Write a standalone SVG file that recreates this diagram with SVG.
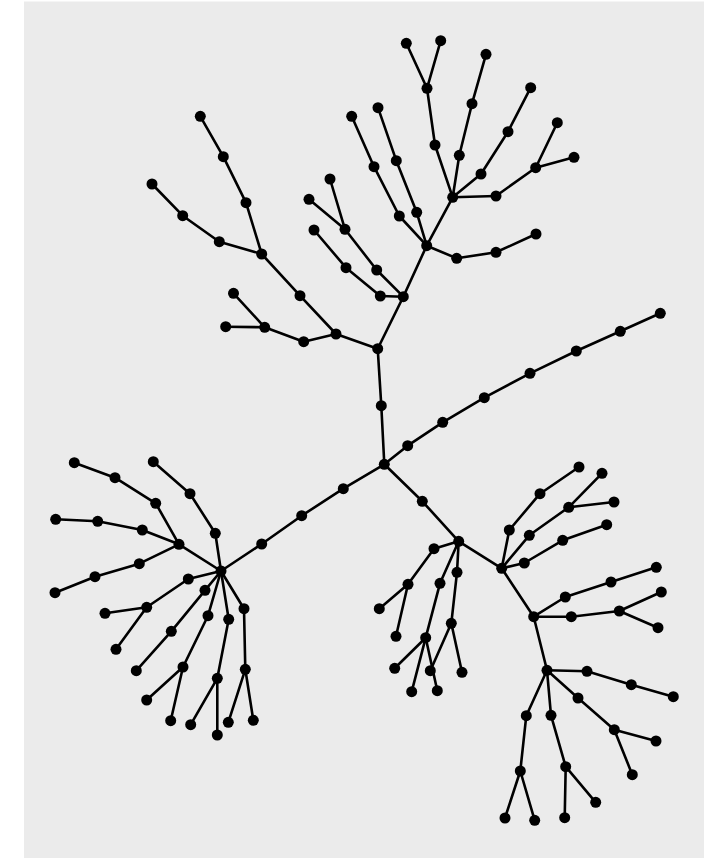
<svg xmlns="http://www.w3.org/2000/svg" width="715" height="858" viewBox="0 0 715 858">
<style>
.e line{stroke:#000;stroke-width:2.6;stroke-linecap:round}
.n circle{fill:#000}
</style>
<rect x="24" y="1.5" width="680" height="857" fill="#ebebeb"/>
<g id="connectors" class="e">
<line x1="384.3" y1="464.3" x2="381.3" y2="405.7"/>
<line x1="381.3" y1="405.7" x2="377.7" y2="348.7"/>
<line x1="384.3" y1="464.3" x2="407.7" y2="445.7"/>
<line x1="407.7" y1="445.7" x2="442.7" y2="422.3"/>
<line x1="442.7" y1="422.3" x2="484.3" y2="397.7"/>
<line x1="484.3" y1="397.7" x2="530" y2="373.3"/>
<line x1="530" y1="373.3" x2="576.3" y2="351"/>
<line x1="576.3" y1="351" x2="620.3" y2="331.3"/>
<line x1="620.3" y1="331.3" x2="660.3" y2="313.3"/>
<line x1="384.3" y1="464.3" x2="343.3" y2="488.7"/>
<line x1="343.3" y1="488.7" x2="301.7" y2="515.7"/>
<line x1="301.7" y1="515.7" x2="261.7" y2="544"/>
<line x1="261.7" y1="544" x2="221" y2="571"/>
<line x1="384.3" y1="464.3" x2="422.3" y2="501.3"/>
<line x1="422.3" y1="501.3" x2="458.7" y2="541.3"/>
<line x1="377.7" y1="348.7" x2="336" y2="334"/>
<line x1="336" y1="334" x2="303.7" y2="341.7"/>
<line x1="303.7" y1="341.7" x2="264.7" y2="327.3"/>
<line x1="264.7" y1="327.3" x2="233.5" y2="293.3"/>
<line x1="264.7" y1="327.3" x2="225.7" y2="326.7"/>
<line x1="336" y1="334" x2="300" y2="295.7"/>
<line x1="300" y1="295.7" x2="261.7" y2="254"/>
<line x1="261.7" y1="254" x2="246" y2="202.7"/>
<line x1="246" y1="202.7" x2="223.3" y2="156.7"/>
<line x1="223.3" y1="156.7" x2="200.3" y2="116.3"/>
<line x1="261.7" y1="254" x2="219.3" y2="241.7"/>
<line x1="219.3" y1="241.7" x2="182.7" y2="215.7"/>
<line x1="182.7" y1="215.7" x2="152" y2="184"/>
<line x1="377.7" y1="348.7" x2="403.3" y2="296.7"/>
<line x1="403.3" y1="296.7" x2="380.3" y2="296"/>
<line x1="380.3" y1="296" x2="346" y2="267.7"/>
<line x1="346" y1="267.7" x2="314" y2="230"/>
<line x1="403.3" y1="296.7" x2="376.7" y2="270"/>
<line x1="376.7" y1="270" x2="345" y2="229.3"/>
<line x1="345" y1="229.3" x2="309" y2="199.3"/>
<line x1="345" y1="229.3" x2="330" y2="179"/>
<line x1="403.3" y1="296.7" x2="426.7" y2="245.7"/>
<line x1="426.7" y1="245.7" x2="399.3" y2="216"/>
<line x1="399.3" y1="216" x2="374" y2="166.7"/>
<line x1="374" y1="166.7" x2="351.7" y2="116.3"/>
<line x1="426.7" y1="245.7" x2="416.7" y2="212.3"/>
<line x1="416.7" y1="212.3" x2="396.3" y2="160.7"/>
<line x1="396.3" y1="160.7" x2="378" y2="107.7"/>
<line x1="426.7" y1="245.7" x2="456.7" y2="258.3"/>
<line x1="456.7" y1="258.3" x2="496" y2="252.3"/>
<line x1="496" y1="252.3" x2="536" y2="234"/>
<line x1="426.7" y1="245.7" x2="452.7" y2="197.3"/>
<line x1="452.7" y1="197.3" x2="435" y2="145"/>
<line x1="435" y1="145" x2="427" y2="88.3"/>
<line x1="427" y1="88.3" x2="406.3" y2="43.3"/>
<line x1="427" y1="88.3" x2="440.7" y2="40.7"/>
<line x1="452.7" y1="197.3" x2="459.3" y2="155.3"/>
<line x1="459.3" y1="155.3" x2="472" y2="103.7"/>
<line x1="472" y1="103.7" x2="486" y2="54.3"/>
<line x1="452.7" y1="197.3" x2="481" y2="174"/>
<line x1="481" y1="174" x2="508" y2="131.7"/>
<line x1="508" y1="131.7" x2="530.7" y2="87.7"/>
<line x1="452.7" y1="197.3" x2="496" y2="196"/>
<line x1="496" y1="196" x2="535.7" y2="167.7"/>
<line x1="535.7" y1="167.7" x2="557.3" y2="122.7"/>
<line x1="535.7" y1="167.7" x2="574" y2="157.3"/>
<line x1="221" y1="571" x2="179" y2="544.3"/>
<line x1="179" y1="544.3" x2="155.7" y2="503.3"/>
<line x1="155.7" y1="503.3" x2="115" y2="477.7"/>
<line x1="115" y1="477.7" x2="74.3" y2="462.7"/>
<line x1="179" y1="544.3" x2="142.3" y2="530"/>
<line x1="142.3" y1="530" x2="97.7" y2="521.3"/>
<line x1="97.7" y1="521.3" x2="55.7" y2="519.3"/>
<line x1="179" y1="544.3" x2="139.3" y2="563.7"/>
<line x1="139.3" y1="563.7" x2="95" y2="576.7"/>
<line x1="95" y1="576.7" x2="55" y2="592.7"/>
<line x1="221" y1="571" x2="215.3" y2="533.3"/>
<line x1="215.3" y1="533.3" x2="190" y2="493.7"/>
<line x1="190" y1="493.7" x2="153.3" y2="461.7"/>
<line x1="221" y1="571" x2="188.3" y2="579"/>
<line x1="188.3" y1="579" x2="146.7" y2="607.3"/>
<line x1="146.7" y1="607.3" x2="105" y2="613.3"/>
<line x1="146.7" y1="607.3" x2="116" y2="649.3"/>
<line x1="221" y1="571" x2="205" y2="590.3"/>
<line x1="205" y1="590.3" x2="171.3" y2="631.3"/>
<line x1="171.3" y1="631.3" x2="136.3" y2="670.7"/>
<line x1="221" y1="571" x2="208" y2="615.7"/>
<line x1="208" y1="615.7" x2="183" y2="667"/>
<line x1="183" y1="667" x2="146.7" y2="700"/>
<line x1="183" y1="667" x2="170.7" y2="720.7"/>
<line x1="221" y1="571" x2="228.7" y2="619.3"/>
<line x1="228.7" y1="619.3" x2="217.3" y2="678.3"/>
<line x1="217.3" y1="678.3" x2="190.7" y2="724.7"/>
<line x1="217.3" y1="678.3" x2="217.3" y2="735"/>
<line x1="221" y1="571" x2="244" y2="608.7"/>
<line x1="244" y1="608.7" x2="245.3" y2="669.3"/>
<line x1="245.3" y1="669.3" x2="228.3" y2="722.3"/>
<line x1="245.3" y1="669.3" x2="253.3" y2="720.3"/>
<line x1="458.7" y1="541.3" x2="434" y2="548.7"/>
<line x1="434" y1="548.7" x2="408" y2="584.3"/>
<line x1="408" y1="584.3" x2="379.3" y2="608.7"/>
<line x1="408" y1="584.3" x2="396" y2="636.3"/>
<line x1="458.7" y1="541.3" x2="440" y2="583.3"/>
<line x1="440" y1="583.3" x2="425.7" y2="637.7"/>
<line x1="425.7" y1="637.7" x2="394.7" y2="668.3"/>
<line x1="425.7" y1="637.7" x2="411.7" y2="691.7"/>
<line x1="425.7" y1="637.7" x2="437.3" y2="690.7"/>
<line x1="458.7" y1="541.3" x2="457" y2="572.3"/>
<line x1="457" y1="572.3" x2="451.3" y2="623.3"/>
<line x1="451.3" y1="623.3" x2="430.3" y2="670.7"/>
<line x1="451.3" y1="623.3" x2="462" y2="672.3"/>
<line x1="458.7" y1="541.3" x2="501.7" y2="568.3"/>
<line x1="501.7" y1="568.3" x2="509.3" y2="530"/>
<line x1="509.3" y1="530" x2="540" y2="493.7"/>
<line x1="540" y1="493.7" x2="579" y2="467"/>
<line x1="501.7" y1="568.3" x2="529.3" y2="535.3"/>
<line x1="529.3" y1="535.3" x2="568.7" y2="507.3"/>
<line x1="568.7" y1="507.3" x2="602" y2="473.3"/>
<line x1="568.7" y1="507.3" x2="614" y2="502"/>
<line x1="501.7" y1="568.3" x2="524.3" y2="563"/>
<line x1="524.3" y1="563" x2="562.7" y2="540.3"/>
<line x1="562.7" y1="540.3" x2="606.7" y2="524.7"/>
<line x1="501.7" y1="568.3" x2="533.7" y2="616.7"/>
<line x1="533.7" y1="616.7" x2="565.3" y2="597"/>
<line x1="565.3" y1="597" x2="611" y2="582"/>
<line x1="611" y1="582" x2="656.3" y2="567.3"/>
<line x1="533.7" y1="616.7" x2="571.3" y2="616.7"/>
<line x1="571.3" y1="616.7" x2="619.3" y2="611"/>
<line x1="619.3" y1="611" x2="661.3" y2="592"/>
<line x1="619.3" y1="611" x2="658" y2="627.7"/>
<line x1="533.7" y1="616.7" x2="547" y2="670.3"/>
<line x1="547" y1="670.3" x2="587" y2="671.3"/>
<line x1="587" y1="671.3" x2="631.3" y2="684.7"/>
<line x1="631.3" y1="684.7" x2="673.3" y2="696.7"/>
<line x1="547" y1="670.3" x2="578" y2="698"/>
<line x1="578" y1="698" x2="614.3" y2="729.7"/>
<line x1="614.3" y1="729.7" x2="656" y2="741"/>
<line x1="614.3" y1="729.7" x2="632.3" y2="774.7"/>
<line x1="547" y1="670.3" x2="526.3" y2="715.7"/>
<line x1="526.3" y1="715.7" x2="520.3" y2="771"/>
<line x1="520.3" y1="771" x2="505" y2="818"/>
<line x1="520.3" y1="771" x2="534.7" y2="820.3"/>
<line x1="547" y1="670.3" x2="551" y2="715.3"/>
<line x1="551" y1="715.3" x2="565.7" y2="766.7"/>
<line x1="565.7" y1="766.7" x2="564.7" y2="817.7"/>
<line x1="565.7" y1="766.7" x2="595.7" y2="802.3"/>
</g>
<g id="nodes" class="n">
<g id="c"><circle cx="384.3" cy="464.3" r="5.5"/></g>
<g id="u1"><circle cx="381.3" cy="405.7" r="5.5"/></g>
<g id="t0"><circle cx="377.7" cy="348.7" r="5.5"/></g>
<g id="ur1"><circle cx="407.7" cy="445.7" r="5.5"/></g>
<g id="ur2"><circle cx="442.7" cy="422.3" r="5.5"/></g>
<g id="ur3"><circle cx="484.3" cy="397.7" r="5.5"/></g>
<g id="ur4"><circle cx="530" cy="373.3" r="5.5"/></g>
<g id="ur5"><circle cx="576.3" cy="351" r="5.5"/></g>
<g id="ur6"><circle cx="620.3" cy="331.3" r="5.5"/></g>
<g id="ur7"><circle cx="660.3" cy="313.3" r="5.5"/></g>
<g id="dl1"><circle cx="343.3" cy="488.7" r="5.5"/></g>
<g id="dl2"><circle cx="301.7" cy="515.7" r="5.5"/></g>
<g id="dl3"><circle cx="261.7" cy="544" r="5.5"/></g>
<g id="L"><circle cx="221" cy="571" r="5.5"/></g>
<g id="dr1"><circle cx="422.3" cy="501.3" r="5.5"/></g>
<g id="M"><circle cx="458.7" cy="541.3" r="5.5"/></g>
<g id="a1"><circle cx="336" cy="334" r="5.5"/></g>
<g id="a2"><circle cx="303.7" cy="341.7" r="5.5"/></g>
<g id="a3"><circle cx="264.7" cy="327.3" r="5.5"/></g>
<g id="a4"><circle cx="233.5" cy="293.3" r="5.5"/></g>
<g id="a5"><circle cx="225.7" cy="326.7" r="5.5"/></g>
<g id="a6"><circle cx="300" cy="295.7" r="5.5"/></g>
<g id="a7"><circle cx="261.7" cy="254" r="5.5"/></g>
<g id="a8"><circle cx="246" cy="202.7" r="5.5"/></g>
<g id="a9"><circle cx="223.3" cy="156.7" r="5.5"/></g>
<g id="a10"><circle cx="200.3" cy="116.3" r="5.5"/></g>
<g id="a11"><circle cx="219.3" cy="241.7" r="5.5"/></g>
<g id="a12"><circle cx="182.7" cy="215.7" r="5.5"/></g>
<g id="a13"><circle cx="152" cy="184" r="5.5"/></g>
<g id="T1"><circle cx="403.3" cy="296.7" r="5.5"/></g>
<g id="b1"><circle cx="380.3" cy="296" r="5.5"/></g>
<g id="b2"><circle cx="346" cy="267.7" r="5.5"/></g>
<g id="b3"><circle cx="314" cy="230" r="5.5"/></g>
<g id="b4"><circle cx="376.7" cy="270" r="5.5"/></g>
<g id="b5"><circle cx="345" cy="229.3" r="5.5"/></g>
<g id="b6"><circle cx="309" cy="199.3" r="5.5"/></g>
<g id="b7"><circle cx="330" cy="179" r="5.5"/></g>
<g id="T2"><circle cx="426.7" cy="245.7" r="5.5"/></g>
<g id="c1"><circle cx="399.3" cy="216" r="5.5"/></g>
<g id="c2"><circle cx="374" cy="166.7" r="5.5"/></g>
<g id="c3"><circle cx="351.7" cy="116.3" r="5.5"/></g>
<g id="c4"><circle cx="416.7" cy="212.3" r="5.5"/></g>
<g id="c5"><circle cx="396.3" cy="160.7" r="5.5"/></g>
<g id="c6"><circle cx="378" cy="107.7" r="5.5"/></g>
<g id="c7"><circle cx="456.7" cy="258.3" r="5.5"/></g>
<g id="c8"><circle cx="496" cy="252.3" r="5.5"/></g>
<g id="c9"><circle cx="536" cy="234" r="5.5"/></g>
<g id="T3"><circle cx="452.7" cy="197.3" r="5.5"/></g>
<g id="d1"><circle cx="435" cy="145" r="5.5"/></g>
<g id="d2"><circle cx="427" cy="88.3" r="5.5"/></g>
<g id="d3"><circle cx="406.3" cy="43.3" r="5.5"/></g>
<g id="d4"><circle cx="440.7" cy="40.7" r="5.5"/></g>
<g id="d5"><circle cx="459.3" cy="155.3" r="5.5"/></g>
<g id="d6"><circle cx="472" cy="103.7" r="5.5"/></g>
<g id="d7"><circle cx="486" cy="54.3" r="5.5"/></g>
<g id="d8"><circle cx="481" cy="174" r="5.5"/></g>
<g id="d9"><circle cx="508" cy="131.7" r="5.5"/></g>
<g id="d10"><circle cx="530.7" cy="87.7" r="5.5"/></g>
<g id="d11"><circle cx="496" cy="196" r="5.5"/></g>
<g id="d12"><circle cx="535.7" cy="167.7" r="5.5"/></g>
<g id="d13"><circle cx="557.3" cy="122.7" r="5.5"/></g>
<g id="d14"><circle cx="574" cy="157.3" r="5.5"/></g>
<g id="L2"><circle cx="179" cy="544.3" r="5.5"/></g>
<g id="e1"><circle cx="155.7" cy="503.3" r="5.5"/></g>
<g id="e2"><circle cx="115" cy="477.7" r="5.5"/></g>
<g id="e3"><circle cx="74.3" cy="462.7" r="5.5"/></g>
<g id="e4"><circle cx="142.3" cy="530" r="5.5"/></g>
<g id="e5"><circle cx="97.7" cy="521.3" r="5.5"/></g>
<g id="e6"><circle cx="55.7" cy="519.3" r="5.5"/></g>
<g id="e7"><circle cx="139.3" cy="563.7" r="5.5"/></g>
<g id="e8"><circle cx="95" cy="576.7" r="5.5"/></g>
<g id="e9"><circle cx="55" cy="592.7" r="5.5"/></g>
<g id="f1"><circle cx="215.3" cy="533.3" r="5.5"/></g>
<g id="f2"><circle cx="190" cy="493.7" r="5.5"/></g>
<g id="f3"><circle cx="153.3" cy="461.7" r="5.5"/></g>
<g id="f4"><circle cx="188.3" cy="579" r="5.5"/></g>
<g id="f5"><circle cx="146.7" cy="607.3" r="5.5"/></g>
<g id="f6"><circle cx="105" cy="613.3" r="5.5"/></g>
<g id="f7"><circle cx="116" cy="649.3" r="5.5"/></g>
<g id="f8"><circle cx="205" cy="590.3" r="5.5"/></g>
<g id="f9"><circle cx="171.3" cy="631.3" r="5.5"/></g>
<g id="f10"><circle cx="136.3" cy="670.7" r="5.5"/></g>
<g id="f11"><circle cx="208" cy="615.7" r="5.5"/></g>
<g id="f12"><circle cx="183" cy="667" r="5.5"/></g>
<g id="f13"><circle cx="146.7" cy="700" r="5.5"/></g>
<g id="f14"><circle cx="170.7" cy="720.7" r="5.5"/></g>
<g id="f15"><circle cx="228.7" cy="619.3" r="5.5"/></g>
<g id="f16"><circle cx="217.3" cy="678.3" r="5.5"/></g>
<g id="f17"><circle cx="190.7" cy="724.7" r="5.5"/></g>
<g id="f18"><circle cx="217.3" cy="735" r="5.5"/></g>
<g id="f19"><circle cx="244" cy="608.7" r="5.5"/></g>
<g id="f20"><circle cx="245.3" cy="669.3" r="5.5"/></g>
<g id="f21"><circle cx="228.3" cy="722.3" r="5.5"/></g>
<g id="f22"><circle cx="253.3" cy="720.3" r="5.5"/></g>
<g id="g1"><circle cx="434" cy="548.7" r="5.5"/></g>
<g id="g2"><circle cx="408" cy="584.3" r="5.5"/></g>
<g id="g3"><circle cx="379.3" cy="608.7" r="5.5"/></g>
<g id="g4"><circle cx="396" cy="636.3" r="5.5"/></g>
<g id="g5"><circle cx="440" cy="583.3" r="5.5"/></g>
<g id="g6"><circle cx="425.7" cy="637.7" r="5.5"/></g>
<g id="g7"><circle cx="394.7" cy="668.3" r="5.5"/></g>
<g id="g8"><circle cx="411.7" cy="691.7" r="5.5"/></g>
<g id="g9"><circle cx="437.3" cy="690.7" r="5.5"/></g>
<g id="g10"><circle cx="457" cy="572.3" r="5.5"/></g>
<g id="g11"><circle cx="451.3" cy="623.3" r="5.5"/></g>
<g id="g12"><circle cx="430.3" cy="670.7" r="5.5"/></g>
<g id="g13"><circle cx="462" cy="672.3" r="5.5"/></g>
<g id="R"><circle cx="501.7" cy="568.3" r="5.5"/></g>
<g id="h1"><circle cx="509.3" cy="530" r="5.5"/></g>
<g id="h2"><circle cx="540" cy="493.7" r="5.5"/></g>
<g id="h3"><circle cx="579" cy="467" r="5.5"/></g>
<g id="h4"><circle cx="529.3" cy="535.3" r="5.5"/></g>
<g id="h5"><circle cx="568.7" cy="507.3" r="5.5"/></g>
<g id="h6"><circle cx="602" cy="473.3" r="5.5"/></g>
<g id="h7"><circle cx="614" cy="502" r="5.5"/></g>
<g id="h8"><circle cx="524.3" cy="563" r="5.5"/></g>
<g id="h9"><circle cx="562.7" cy="540.3" r="5.5"/></g>
<g id="h10"><circle cx="606.7" cy="524.7" r="5.5"/></g>
<g id="R2"><circle cx="533.7" cy="616.7" r="5.5"/></g>
<g id="i1"><circle cx="565.3" cy="597" r="5.5"/></g>
<g id="i2"><circle cx="611" cy="582" r="5.5"/></g>
<g id="i3"><circle cx="656.3" cy="567.3" r="5.5"/></g>
<g id="i4"><circle cx="571.3" cy="616.7" r="5.5"/></g>
<g id="i5"><circle cx="619.3" cy="611" r="5.5"/></g>
<g id="i6"><circle cx="661.3" cy="592" r="5.5"/></g>
<g id="i7"><circle cx="658" cy="627.7" r="5.5"/></g>
<g id="R3"><circle cx="547" cy="670.3" r="5.5"/></g>
<g id="j1"><circle cx="587" cy="671.3" r="5.5"/></g>
<g id="j2"><circle cx="631.3" cy="684.7" r="5.5"/></g>
<g id="j3"><circle cx="673.3" cy="696.7" r="5.5"/></g>
<g id="j4"><circle cx="578" cy="698" r="5.5"/></g>
<g id="j5"><circle cx="614.3" cy="729.7" r="5.5"/></g>
<g id="j6"><circle cx="656" cy="741" r="5.5"/></g>
<g id="j7"><circle cx="632.3" cy="774.7" r="5.5"/></g>
<g id="j8"><circle cx="526.3" cy="715.7" r="5.5"/></g>
<g id="j9"><circle cx="520.3" cy="771" r="5.5"/></g>
<g id="j10"><circle cx="505" cy="818" r="5.5"/></g>
<g id="j11"><circle cx="534.7" cy="820.3" r="5.5"/></g>
<g id="j12"><circle cx="551" cy="715.3" r="5.5"/></g>
<g id="j13"><circle cx="565.7" cy="766.7" r="5.5"/></g>
<g id="j14"><circle cx="564.7" cy="817.7" r="5.5"/></g>
<g id="j15"><circle cx="595.7" cy="802.3" r="5.5"/></g>
</g>
</svg>
